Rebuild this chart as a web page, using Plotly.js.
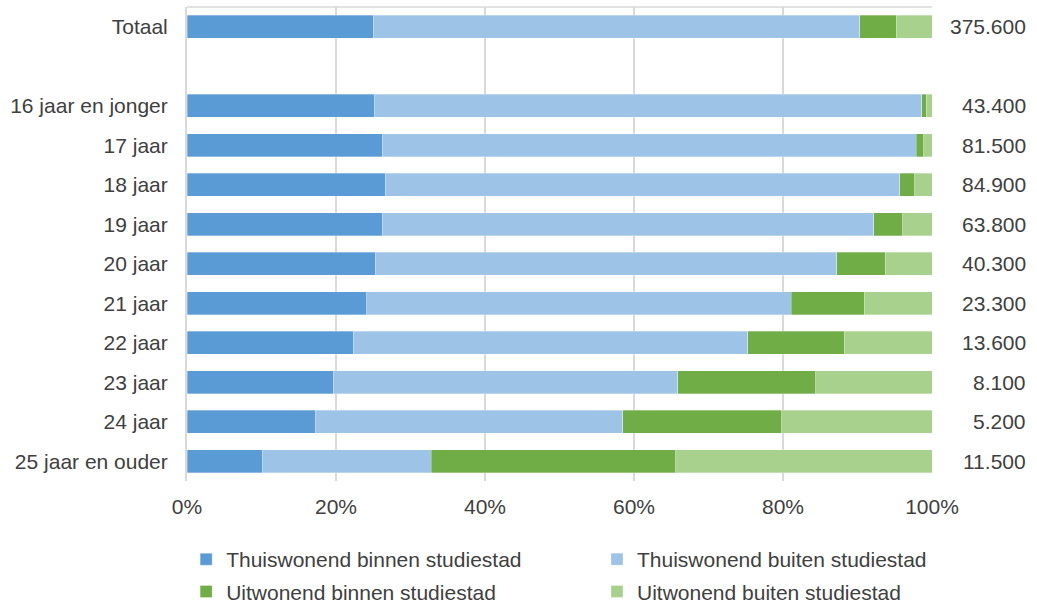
<!DOCTYPE html>
<html>
<head>
<meta charset="utf-8">
<script src="https://cdn.plot.ly/plotly-3.0.1.min.js"></script>
<style>
html,body{margin:0;padding:0;background:#fff;}
#chart{width:1037px;height:604px;}
</style>
</head>
<body>
<div id="chart"></div>
<script>
const categories = ['Totaal', ' ', '16 jaar en jonger', '17 jaar', '18 jaar', '19 jaar', '20 jaar', '21 jaar', '22 jaar', '23 jaar', '24 jaar', '25 jaar en ouder'];
const thuisBinnen = [25.0, null, 25.1, 26.2, 26.6, 26.2, 25.3, 24.1, 22.3, 19.6, 17.2, 10.1];
const thuisBuiten = [65.3, null, 73.5, 71.7, 69.1, 66.0, 61.9, 57.0, 53.0, 46.3, 41.3, 22.7];
const uitBinnen   = [4.9, null, 0.6, 1.0, 2.0, 3.9, 6.5, 9.8, 12.9, 18.5, 21.3, 32.8];
const uitBuiten   = [4.8, null, 0.8, 1.1, 2.3, 3.9, 6.3, 9.1, 11.8, 15.6, 20.2, 34.4];
const totals      = ['375.600', '', '43.400', '81.500', '84.900', '63.800', '40.300', '23.300', '13.600', '8.100', '5.200', '11.500'];
const seriesNames = ['Thuiswonend binnen studiestad', 'Thuiswonend buiten studiestad', 'Uitwonend binnen studiestad', 'Uitwonend buiten studiestad'];
const colors = ['#5B9BD5', '#9DC3E6', '#70AD47', '#A9D18E'];
const tickVals = [0, 20, 40, 60, 80, 100];
const tickText = ['0%', '20%', '40%', '60%', '80%', '100%'];

const FONT = 'Liberation Sans, Arial, sans-serif';
const legendOf = ['legend', 'legend2', 'legend', 'legend2'];
const seriesData = [thuisBinnen, thuisBuiten, uitBinnen, uitBuiten];
const traces = seriesData.map((vals, i) => ({
  type: 'bar',
  orientation: 'h',
  name: seriesNames[i],
  y: categories,
  x: vals,
  legend: legendOf[i],
  legendgroup: 'g' + i,
  marker: {color: colors[i], line: {color: 'rgba(255,255,255,0.5)', width: 0.6}},
  hoverinfo: 'name+x'
}));

const annotations = categories.map((c, i) => ({
  xref: 'paper', yref: 'y', x: 1.1295, y: c,
  xanchor: 'right', yanchor: 'middle',
  text: totals[i], showarrow: false,
  font: {family: FONT, size: 21, color: '#404040'}
})).filter(a => a.text !== '');

const legendBase = {
  orientation: 'v', xref: 'container', yref: 'paper',
  xanchor: 'left', y: -0.2764, yanchor: 'bottom',
  traceorder: 'grouped', tracegroupgap: 2,
  font: {family: FONT, size: 21, color: '#404040'},
  itemwidth: 30, bgcolor: 'rgba(0,0,0,0)'
};

const layout = {
  width: 1037, height: 604,
  margin: {l: 187, r: 105, t: 7, b: 123, autoexpand: false},
  barmode: 'stack',
  bargap: 0.42,
  paper_bgcolor: '#fff', plot_bgcolor: '#fff',
  font: {family: FONT, size: 21, color: '#404040'},
  xaxis: {
    range: [0, 100], tickvals: tickVals, ticktext: tickText,
    showgrid: true, gridcolor: '#D9D9D9', gridwidth: 1.3,
    zeroline: false, showline: false, ticks: '',
    ticklabelstandoff: 11, fixedrange: true
  },
  yaxis: {
    type: 'category', categoryorder: 'array', categoryarray: categories,
    autorange: 'reversed', showgrid: false, zeroline: false,
    showline: true, linecolor: '#D9D9D9', linewidth: 2,
    ticks: '', ticklabelstandoff: 13, fixedrange: true
  },
  shapes: [
    {type: 'line', xref: 'paper', yref: 'paper', x0: 0, x1: 1, y0: 1, y1: 1, line: {color: '#D9D9D9', width: 1.3}}
  ],
  annotations: annotations,
  showlegend: true,
  legend: Object.assign({}, legendBase, {x: 0.1795}),
  legend2: Object.assign({}, legendBase, {x: 0.5757})
};

Plotly.newPlot('chart', traces, layout, {displayModeBar: false, staticPlot: true});
</script>
</body>
</html>
